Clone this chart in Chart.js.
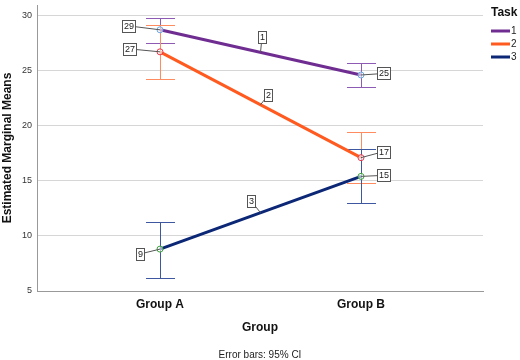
<!DOCTYPE html>
<html>
<head>
<meta charset="utf-8">
<script src="https://cdn.jsdelivr.net/npm/chart.js@4.4.1/dist/chart.umd.min.js"></script>
<style>
  html, body { margin: 0; padding: 0; background: #fff; }
  #wrap { width: 520px; height: 360px; }
</style>
</head>
<body>
<div id="wrap"><canvas id="myChart" width="520" height="360"></canvas></div>
<script>
// datos
const groups = ['Group A', 'Group B'];
const tasks = ['1', '2', '3'];
const task1Mean = [28.7, 24.6];
const task1Low = [27.5, 23.5];
const task1High = [29.8, 25.7];
const task2Mean = [26.7, 17.1];
const task2Low = [24.2, 14.8];
const task2High = [29.1, 19.4];
const task3Mean = [8.8, 15.4];
const task3Low = [6.2, 13.0];
const task3High = [11.3, 17.9];
const yTicks = [5, 10, 15, 20, 25, 30];

const FONT = "'Liberation Sans', Arial, sans-serif";
const lineColors = ['#6f2c91', '#ff5a1f', '#0b2775'];
const barColors = ['#8d5bb3', '#ff8c60', '#3d57a0'];
const markerColors = ['#6aa6e0', '#e8364b', '#3aa33a'];

const means = [task1Mean, task2Mean, task3Mean];
const lows = [task1Low, task2Low, task3Low];
const highs = [task1High, task2High, task3High];

// desplazamiento de las etiquetas (px) respecto al punto
const valueLabelOffsets = [
    [[-32, -4], [22.5, -1.5]],
    [[-31, -3], [22.5, -6]],
    [[-20.5, 5], [22.5, -1]]
];
const lineLabelOffsets = [[1.5, -15], [8, -10], [-9.5, -12]];

function drawBox(ctx, text, cx, cy, ax, ay) {
    ctx.save();
    ctx.font = '9px ' + FONT;
    const w = ctx.measureText(text).width + 3;
    const h = 12;
    ctx.strokeStyle = '#555';
    ctx.lineWidth = 1;
    ctx.beginPath();
    ctx.moveTo(cx, cy);
    ctx.lineTo(ax, ay);
    ctx.stroke();
    const x0 = Math.round(cx - w / 2) + 0.5;
    const y0 = Math.round(cy - h / 2) + 0.5;
    ctx.fillStyle = '#fff';
    ctx.fillRect(x0, y0, Math.round(w), h);
    ctx.strokeRect(x0, y0, Math.round(w), h);
    ctx.fillStyle = '#222';
    ctx.textAlign = 'center';
    ctx.textBaseline = 'middle';
    ctx.fillText(text, x0 + Math.round(w) / 2, y0 + h / 2 + 0.5);
    ctx.restore();
}

const errorBars = {
    id: 'errorBars',
    beforeDatasetsDraw(chart) {
        const { ctx, scales: { x, y } } = chart;
        ctx.save();
        ctx.lineWidth = 1;
        for (let t = 0; t < tasks.length; t++) {
            ctx.strokeStyle = barColors[t];
            for (let g = 0; g < groups.length; g++) {
                const px = Math.round(x.getPixelForValue(g)) + 0.5;
                const yl = Math.round(y.getPixelForValue(lows[t][g])) + 0.5;
                const yh = Math.round(y.getPixelForValue(highs[t][g])) + 0.5;
                ctx.beginPath();
                ctx.moveTo(px, yl); ctx.lineTo(px, yh);
                ctx.moveTo(px - 14.5, yl); ctx.lineTo(px + 14.5, yl);
                ctx.moveTo(px - 14.5, yh); ctx.lineTo(px + 14.5, yh);
                ctx.stroke();
            }
        }
        ctx.restore();
    },
    afterDraw(chart) {
        const { ctx, chartArea, scales: { x, y } } = chart;
        // etiquetas de valores
        for (let t = 0; t < tasks.length; t++) {
            for (let g = 0; g < groups.length; g++) {
                const px = x.getPixelForValue(g);
                const py = y.getPixelForValue(means[t][g]);
                const off = valueLabelOffsets[t][g];
                drawBox(ctx, String(Math.round(means[t][g])), px + off[0], py + off[1], px, py);
            }
            // etiqueta de la linea
            const mx = x.getPixelForValue(0.5);
            const my = y.getPixelForValue((means[t][0] + means[t][1]) / 2);
            const lo = lineLabelOffsets[t];
            drawBox(ctx, tasks[t], mx + lo[0], my + lo[1], mx, my);
        }

        ctx.save();
        const cx = (chartArea.left + chartArea.right) / 2;
        ctx.fillStyle = '#111';
        ctx.textAlign = 'center';
        ctx.textBaseline = 'middle';
        ctx.font = 'bold 12px ' + FONT;
        ctx.fillText('Group', cx, 328);
        ctx.font = '10px ' + FONT;
        ctx.fillStyle = '#222';
        ctx.fillText('Error bars: 95% CI', cx, 355);

        // leyenda
        ctx.textAlign = 'left';
        ctx.font = 'bold 12px ' + FONT;
        ctx.fillStyle = '#111';
        ctx.fillText('Task', 491, 13);
        ctx.font = '10px ' + FONT;
        for (let t = 0; t < tasks.length; t++) {
            const ly = 31 + t * 13;
            ctx.strokeStyle = lineColors[t];
            ctx.lineWidth = 3;
            ctx.beginPath();
            ctx.moveTo(491, ly); ctx.lineTo(510, ly);
            ctx.stroke();
            ctx.fillStyle = '#222';
            ctx.fillText(tasks[t], 511, ly + 0.5);
        }
        ctx.restore();
    }
};

const datasets = tasks.map((t, i) => ({
    label: t,
    data: means[i].map((v, g) => ({ x: g, y: v })),
    borderColor: lineColors[i],
    borderWidth: 3,
    tension: 0,
    pointRadius: 3,
    pointBorderWidth: 1,
    pointBorderColor: markerColors[i],
    pointBackgroundColor: 'rgba(255,255,255,0.6)'
}));

const ctx = document.getElementById('myChart').getContext('2d');
const myChart = new Chart(ctx, {
    type: 'line',
    data: { datasets: datasets },
    options: {
        responsive: false,
        animation: false,
        devicePixelRatio: 1,
        layout: { padding: { left: 0, right: 37, top: 0, bottom: 0 } },
        plugins: { legend: { display: false }, tooltip: { enabled: false } },
        scales: {
            x: {
                type: 'linear',
                min: -0.612,
                max: 1.607,
                afterBuildTicks: (scale) => { scale.ticks = groups.map((g, i) => ({ value: i })); },
                afterFit: (scale) => {
                    scale.height = 69;
                    scale.paddingLeft = 0; scale.paddingRight = 0;
                },
                ticks: {
                    callback: (v) => groups[v],
                    color: '#111',
                    font: { family: FONT, size: 12, weight: 'bold' },
                    padding: 6,
                    maxRotation: 0
                },
                grid: { display: false, drawTicks: false },
                border: { color: '#999', width: 1 }
            },
            y: {
                min: 5,
                max: 30.95,
                afterBuildTicks: (scale) => { scale.ticks = yTicks.map(v => ({ value: v })); },
                afterFit: (scale) => {
                    scale.width = 37;
                    scale.paddingTop = 0; scale.paddingBottom = 0;
                },
                ticks: {
                    color: '#333',
                    font: { family: FONT, size: 9 },
                    padding: 5
                },
                grid: { color: '#d6d6d6', drawTicks: false },
                border: { color: '#999', width: 1 },
                title: {
                    display: true,
                    text: 'Estimated Marginal Means',
                    color: '#111',
                    font: { family: FONT, size: 12, weight: 'bold' },
                    padding: { top: 0, bottom: 0 }
                }
            }
        }
    },
    plugins: [errorBars]
});
</script>
</body>
</html>
